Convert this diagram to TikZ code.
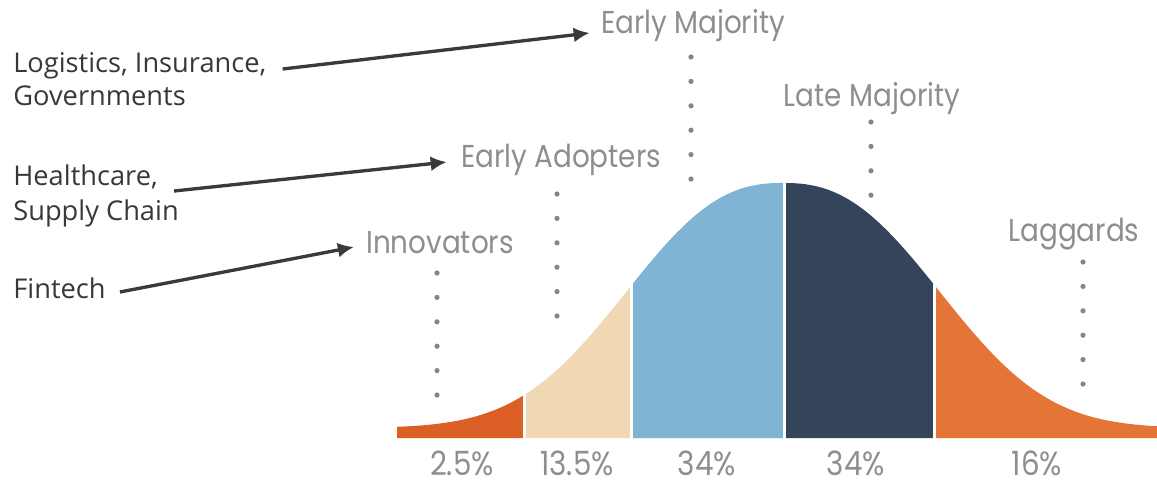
\documentclass[tikz,border=0pt]{standalone}
\usepackage{fontspec}
\usetikzlibrary{arrows.meta,positioning}

\newfontfamily\labelfont{Open Sans}
\newfontfamily\stagefont{Poppins}[FakeStretch=0.88]

\newcommand*{\basey}{438}
% outline of the adoption curve, x in units of 195px from the peak
\newcommand*{\bellpath}{(397,\basey) -- plot[domain=-1.979:1.928,samples=121] ({783+195*\x},{\basey-10-245*exp(0-(abs(\x)+0.001)^2.45)}) -- (1157,\basey) -- cycle}

\definecolor{innocol}{HTML}{DC5F26}
\definecolor{adoptcol}{HTML}{F1D8B4}
\definecolor{earlycol}{HTML}{7FB4D5}
\definecolor{latecol}{HTML}{34445A}
\definecolor{lagcol}{HTML}{E47536}
\definecolor{stagegray}{HTML}{8E8E8E}
\definecolor{dotgray}{HTML}{858585}
\definecolor{sectorgray}{HTML}{383838}
\definecolor{arrowgray}{HTML}{3A3A3A}

\begin{document}
\begin{tikzpicture}
[
	x=0.02cm,
	y=-0.02cm,
	stage/.style={font=\stagefont\fontsize{18}{21}\selectfont,text=stagegray,inner sep=0pt,anchor=base},
	share/.style={font=\stagefont\fontsize{19}{22}\selectfont,text=stagegray,inner sep=0pt,text depth=0pt,anchor=base},
	sector/.style={font=\labelfont\fontsize{15.5}{18}\selectfont,text=sectorgray,inner sep=0pt,anchor=base west},
	pointer/.style={-{Latex[length=0.32cm,width=0.3cm]},line width=1.9pt,draw=arrowgray}
]

	\useasboundingbox (0,0) rectangle (1157,481);

	% bell curve, clipped into the five groups
	\foreach \xa/\xb/\c in {397/524/innocol, 524/631/adoptcol, 631/784/earlycol, 784/934/latecol, 934/1157/lagcol} {
		\begin{scope}
			\clip (\xa,0) rectangle (\xb,\basey);
			\fill[\c] \bellpath;
		\end{scope}
	}

	% white gaps between groups
	\foreach \gx in {524.5,631,784,934} {
		\draw[white,line width=0.06cm] (\gx,\basey+1) -- (\gx,170);
	}

	% dotted leaders
	\foreach \cx/\cy/\n in {437/273/6, 557/194/6, 691/57/6, 871/122/4, 1083/262/6} {
		\foreach \k in {1,...,\n} {
			\fill[dotgray] (\cx,{\cy+24.4*(\k-1)}) circle[radius=2.6];
		}
	}

	% group names
	\node[stage] (earlymaj) at (693,33) {Early Majority};
	\node[stage] (latemaj) at (872,106) {Late Majority};
	\node[stage] (adopters) at (561,167) {Early Adopters};
	\node[stage] (innov) at (440,253) {Innovators};
	\node[stage] (lagg) at (1074,241) {Laggards};

	% shares
	\foreach \px/\txt [count=\i] in {462/2.5\%, 577/13.5\%, 707/34\%, 856/34\%, 1037/16\%} {
		\node[share] (share\i) at (\px,475) {\txt};
	}

	% sectors
	\node[sector] (logist) at (13,72) {Logistics, Insurance,};
	\node[sector] (govern) at (13,105) {Governments};
	\node[sector] (health) at (13,185) {Healthcare,};
	\node[sector] (supply) at (13,220) {Supply Chain};
	\node[sector] (fintech) at (13,298) {Fintech};

	% arrows
	\draw[pointer] ([shift={(16,-3)}]logist.base east) -- ([shift={(-11,0)}]earlymaj.base west);
	\draw[pointer] ([shift={(16,6)}]health.base east) -- ([shift={(-14,-5)}]adopters.base west);
	\draw[pointer] ([shift={(14,-6)}]fintech.base east) -- ([shift={(-12,-6)}]innov.base west);

\end{tikzpicture}
\end{document}
